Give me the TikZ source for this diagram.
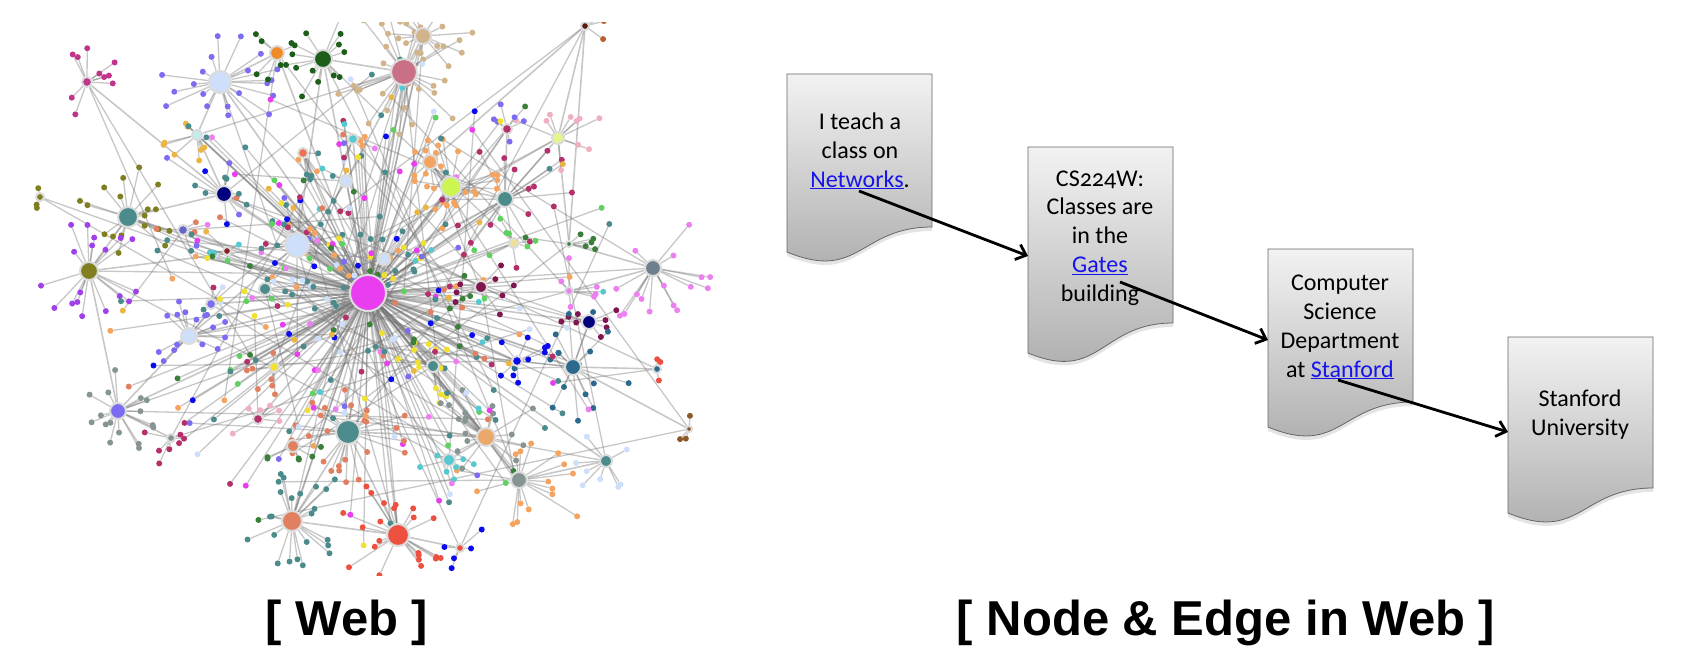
\documentclass[tikz,border=0pt]{standalone}
\usepackage{fontspec}
\usepackage{tikz}
\usetikzlibrary{arrows.meta,backgrounds}
\newfontfamily\pagefont{Carlito}[Numbers=OldStyle]
\newfontfamily\capfont{Liberation Sans}
\definecolor{linkblue}{RGB}{20,20,235}
\definecolor{cMag}{HTML}{E83EF0}
\definecolor{cMauve}{HTML}{C96F86}
\definecolor{cTan}{HTML}{D2B48C}
\definecolor{cLblue}{HTML}{CDDFFA}
\definecolor{cMag2}{HTML}{C0358A}
\definecolor{cOrange}{HTML}{F08C28}
\definecolor{cDgreen}{HTML}{1D5E1A}
\definecolor{cNavy}{HTML}{00007F}
\definecolor{cTeal}{HTML}{4B8B8B}
\definecolor{cOlive}{HTML}{7F7F1F}
\definecolor{cLcyan}{HTML}{BFEEEE}
\definecolor{cYg}{HTML}{CDF550}
\definecolor{cOrange2}{HTML}{F4A460}
\definecolor{cCrimson}{HTML}{B3306A}
\definecolor{cYg2}{HTML}{E2F78A}
\definecolor{cSlate}{HTML}{6F7F90}
\definecolor{cMaroon}{HTML}{801650}
\definecolor{cTblue}{HTML}{2B6A8C}
\definecolor{cBlue}{HTML}{0A0AF0}
\definecolor{cTanOr}{HTML}{EAA86A}
\definecolor{cGrey}{HTML}{879494}
\definecolor{cCyan}{HTML}{55C8D0}
\definecolor{cRed}{HTML}{EE5040}
\definecolor{cSalmon}{HTML}{E08060}
\definecolor{cViolet}{HTML}{7C6CF2}
\definecolor{cYellow}{HTML}{F0E030}
\definecolor{cDred}{HTML}{8A2020}
\definecolor{cYellowL}{HTML}{EEE09A}
\definecolor{cGreen}{HTML}{60D060}
\definecolor{cDgreen2}{HTML}{3A803A}
\definecolor{cDbrown}{HTML}{5A1E10}
\definecolor{cBrown}{HTML}{C06030}
\definecolor{cBrown2}{HTML}{8A5A2A}
\definecolor{cOrRed}{HTML}{EF7050}
\definecolor{cViolet2}{HTML}{EC80F0}
\definecolor{cPurple}{HTML}{A040E8}
\definecolor{cGold}{HTML}{ECB440}
\definecolor{cPinkL}{HTML}{F0B0C0}
\definecolor{cSlateBlue}{HTML}{6666C8}
\def\weblist{1/368/293/18/cMag/55/175/mix, 2/404/72/13/cMauve/26/70/cTan,
  3/423/36/8/cTan/14/50/cTan, 4/220/82/11/cLblue/20/62/cViolet,
  5/87/82/5/cMag2/10/36/cMag2, 6/277/53/7/cOrange/6/30/cDgreen,
  7/323/59/9/cDgreen/14/45/cDgreen, 8/224/194/8/cNavy/10/40/mix,
  9/128/217/10/cTeal/18/55/cOlive, 10/89/271/9/cOlive/18/55/cPurple,
  11/297/245/12/cLblue/16/50/mix, 12/197/135/5/cLcyan/8/35/cGold,
  13/451/187/10/cYg/20/50/cOrange2, 14/430/162/7/cOrange2/8/35/cOrange2,
  15/505/199/8/cTeal/16/70/cCrimson, 16/558/138/6/cYg2/10/50/cPinkL,
  17/507/129/5/cCrimson/6/30/cViolet, 18/653/268/8/cSlate/16/60/cViolet2,
  19/589/322/7/cNavy/8/35/cMaroon, 20/573/367/8/cTblue/16/60/cTblue,
  21/657/369/4/cTblue/3/25/cRed, 22/433/366/6/cTeal/10/40/cYellow,
  23/517/361/5/cBlue/8/35/cBlue, 24/486/437/9/cTanOr/18/60/cGrey,
  25/519/480/8/cGrey/16/70/cOrange2, 26/449/460/6/cCyan/6/30/cCyan,
  27/606/461/6/cTeal/8/35/cLblue, 28/398/535/11/cRed/22/60/cRed,
  29/460/548/4/cRed/5/30/cBlue, 30/348/432/12/cTeal/24/65/cSalmon,
  31/292/521/10/cSalmon/22/60/cTeal, 32/293/446/6/cSalmon/6/35/cDgreen2,
  33/189/336/8/cLblue/16/45/cViolet, 34/118/411/8/cViolet/16/45/cGrey,
  35/171/438/4/cGrey/6/30/cCrimson, 36/258/419/5/cCrimson/6/30/cPinkL,
  37/274/367/5/cYellow/6/30/cSalmon, 38/183/230/5/cSlateBlue/6/30/mix,
  39/227/251/4/cDred/4/20/mix, 40/481/287/6/cMaroon/8/35/cMaroon,
  41/384/259/6/cLblue/6/30/mix, 42/346/181/6/cLblue/6/30/mix,
  43/265/289/6/cTeal/6/30/mix, 44/514/243/5/cYellowL/6/30/cGreen,
  45/569/244/3/cDgreen2/6/45/cDgreen2, 46/211/304/5/cViolet/5/25/mix,
  47/40/197/4/cOlive/3/15/cOlive, 48/585/26/4/cDbrown/4/25/cBrown,
  49/689/429/3/cBrown2/3/20/cBrown2, 50/303/153/5/cOrRed/5/25/mix,
  51/353/139/5/cCyan/6/30/mix, 52/569/291/4/cViolet2/6/40/cViolet2}

\begin{document}
\begin{tikzpicture}[x=1pt,y=-1pt,
    edge/.style={draw=black!55, opacity=0.4, line width=1.3pt},
    leaf/.style={circle, inner sep=0pt, minimum size=6pt},
    hub/.style={circle, inner sep=0pt, draw=black!14, line width=2pt},
    pagefill/.style={top color=black!5, bottom color=black!33, draw=black!60, line width=0.8pt},
    pagetext/.style={align=center, anchor=base, font=\pagefont\fontsize{24}{28.7}\selectfont},
    link/.style={->, line width=2.8pt, >={Straight Barb[length=9pt,width=16pt]}},
    caption/.style={anchor=base, font=\capfont\bfseries\fontsize{49}{55}\selectfont}]
\useasboundingbox (0,0) rectangle (1690,672);
\pgfmathsetseed{4242}
\pgfmathdeclarerandomlist{palette}{{cTeal}{cTeal}{cTeal}{cTeal}{cMag}{cLblue}{cSalmon}{cYellow}{cCyan}{cGreen}{cCrimson}{cBlue}{cOrange2}{cViolet}{cDgreen2}{cViolet2}{cGold}}
\def\mixword{mix}
% the web: leaves, scattered pages, hubs
\begin{scope}
\clip (28,22) rectangle (722,575);
\foreach \i/\hx/\hy/\hr/\hcol/\nl/\spr/\lcol in \weblist {
  \foreach \j in {1,...,\nl} {
    \pgfmathsetmacro\ang{rnd*360}
    \pgfmathsetmacro\dd{\spr*(0.3+0.7*rnd)}
    \edef\lc{\lcol}
    \ifx\lc\mixword \pgfmathrandomitem{\lc}{palette}\fi
    \node[leaf, fill=\lc] (lf\i-\j) at ({\hx+\dd*cos(\ang)},{\hy+\dd*sin(\ang)}) {};
  }
}
\foreach \j in {1,...,240} {
  \pgfmathsetmacro\ang{rnd*360}
  \pgfmathsetmacro\dd{25+rnd*235}
  \pgfmathrandomitem{\lc}{palette}
  \node[leaf, fill=\lc] (sc\j) at ({368+\dd*cos(\ang)},{300+0.95*\dd*sin(\ang)}) {};
}
\foreach \i/\hx/\hy/\hr/\hcol/\nl/\spr/\lcol in \weblist
  \node[hub, fill=\hcol, minimum size=2*\hr] (hub\i) at (\hx,\hy) {};
\end{scope}
% links of the web, under the nodes
\begin{pgfonlayer}{background}
\clip (28,22) rectangle (722,575);
\foreach \i/\hx/\hy/\hr/\hcol/\nl/\spr/\lcol in \weblist
  \foreach \j in {1,...,\nl}
    \draw[edge] (hub\i) -- (lf\i-\j);
\foreach \a/\b in {1/2,1/4,1/7,1/8,1/11,1/13,1/14,1/15,1/22,1/24,1/28,1/30,1/31,1/33,1/40,
    1/41,1/42,1/43,1/23,1/20,1/36,1/37,1/46,1/38,1/12,1/3,1/6,1/9,1/19,1/25,1/27,1/34,1/44,
    1/50,1/51,5/8,9/10,9/8,8/12,18/52,18/45,45/48,45/16,20/21,20/19,20/49,24/25,28/29,31/30,
    34/35,34/33,30/28,25/27,24/26,15/16,15/17,13/14,2/3,4/6,7/2,4/12,11/33,13/15,2/42,7/11,
    10/34,22/24,30/24,31/28,16/48,48/14,10/11}
  \draw[edge, line width=1.6pt] (hub\a) -- (hub\b);
\foreach \j in {1,...,240} {
  \pgfmathtruncatemacro\k{\j<141 ? 1 : mod(\j*37,51)+2}
  \draw[edge] (hub\k) -- (sc\j);
}
\end{pgfonlayer}
% pages
\foreach \n/\l/\t/\b/\d/\ay in {1/787/74/252/25/163, 2/1028/147/353/30/256, 3/1268/249/427/25/340, 4/1508/337/513/25/432} {
  \fill[black!30, opacity=0.35] (\l,\t+4) -- (\l+145,\t+4) -- (\l+145,\b-\d+4)
    .. controls (\l+72.5,\b-\d+4) and (\l+72.5,\b+34) .. (\l,\b+4) -- cycle;
  \path[pagefill] (\l,\t) -- (\l+145,\t) -- (\l+145,\b-\d)
    .. controls (\l+72.5,\b-\d) and (\l+72.5,\b+30) .. (\l,\b) -- cycle;
  \coordinate (page\n) at (\l,\ay);
}
\node[pagetext] (txt1) at (860,187) {I teach a\\class on\\\textcolor{linkblue}{\underline{Networks}}.};
\node[pagetext] (txt2) at (1100,301) {CS224W:\\Classes are\\in the\\\textcolor{linkblue}{\underline{Gates}}\\building};
\node[pagetext] (txt3) at (1340,377) {Computer\\Science\\Department\\at \textcolor{linkblue}{\underline{Stanford}}};
\node[pagetext] (txt4) at (1580,435) {Stanford\\University};
\coordinate (netlink) at (859,191);
\coordinate (gateslink) at (1120,282);
\coordinate (stanlink) at (1338,380);
\draw[link] (netlink) -- (page2);
\draw[link] (gateslink) -- (page3);
\draw[link] (stanlink) -- (page4);
% captions
\node[caption] (webcap) at (347,635) {[ Web ]};
\node[caption] (pagecap) at (1226,635) {[ Node \& Edge in Web ]};
\end{tikzpicture}
\end{document}
